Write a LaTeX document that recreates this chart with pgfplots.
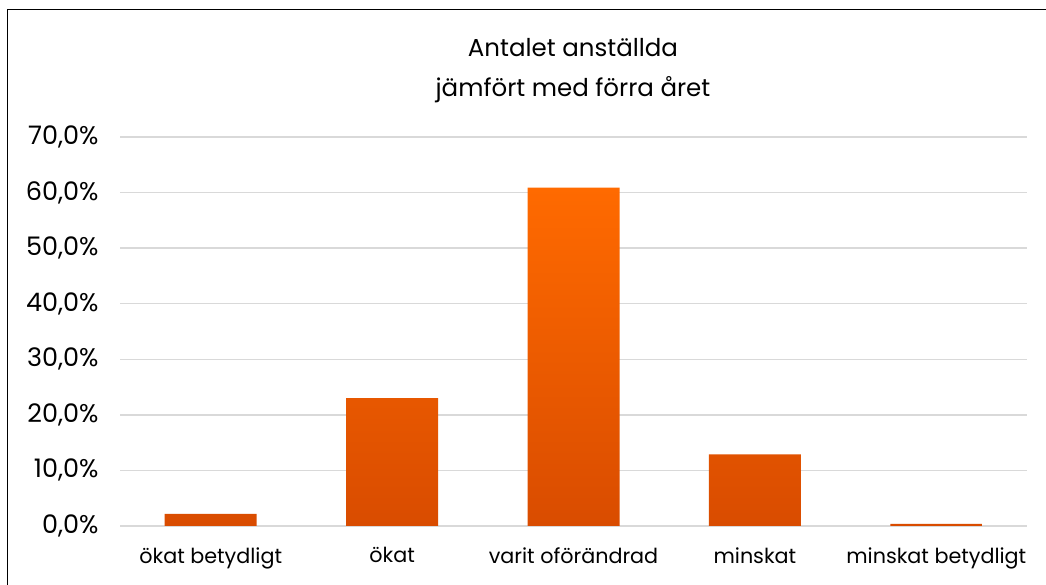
\documentclass[border=0pt]{standalone}
\usepackage{fontspec}
\setmainfont{Poppins}
\usepackage{pgfplots}
\pgfplotsset{compat=1.18}
\definecolor{gridc}{HTML}{D9D9D9}
\definecolor{bartop}{HTML}{FF6A00}
\definecolor{barbot}{HTML}{D94C00}
\begin{document}
\begin{tikzpicture}[x=1bp,y=1bp]
\path[use as bounding box] (0,0) rectangle (1046,585);
\draw[line width=1.5bp, black] (7.5,-10) -- (7.5,575.5) -- (1060,575.5);
\node[align=center, font=\fontsize{24.5bp}{40bp}\selectfont] at (573,514) {Antalet anställda\\jämfört med förra året};
\begin{axis}[
  at={(120bp,59bp)}, anchor=south west,
  scale only axis, width=907bp, height=389bp,
  xmin=-0.5, xmax=4.5, ymin=0, ymax=70,
  axis line style={draw=none},
  major tick length=0pt,
  ymajorgrids, grid style={gridc, line width=1.5bp},
  ytick={0,10,20,30,40,50,60,70},
  yticklabels={0{,}0\%,10{,}0\%,20{,}0\%,30{,}0\%,40{,}0\%,50{,}0\%,60{,}0\%,70{,}0\%},
  yticklabel style={font=\fontsize{25.5bp}{28bp}\selectfont, anchor=east, xshift=-18bp},
  xtick=data,
  xticklabels={ökat betydligt,ökat,varit oförändrad,minskat,minskat betydligt},
  xticklabel style={font=\fontsize{20.7bp}{24bp}\selectfont, anchor=north, yshift=-18bp},
  clip=false,
]
\addplot[ybar, bar width=92bp, draw=none, top color=bartop, bottom color=barbot] coordinates {
(0,2.2) (1,23.0) (2,60.9) (3,12.9) (4,0.4)
};
\end{axis}
\end{tikzpicture}
\end{document}
